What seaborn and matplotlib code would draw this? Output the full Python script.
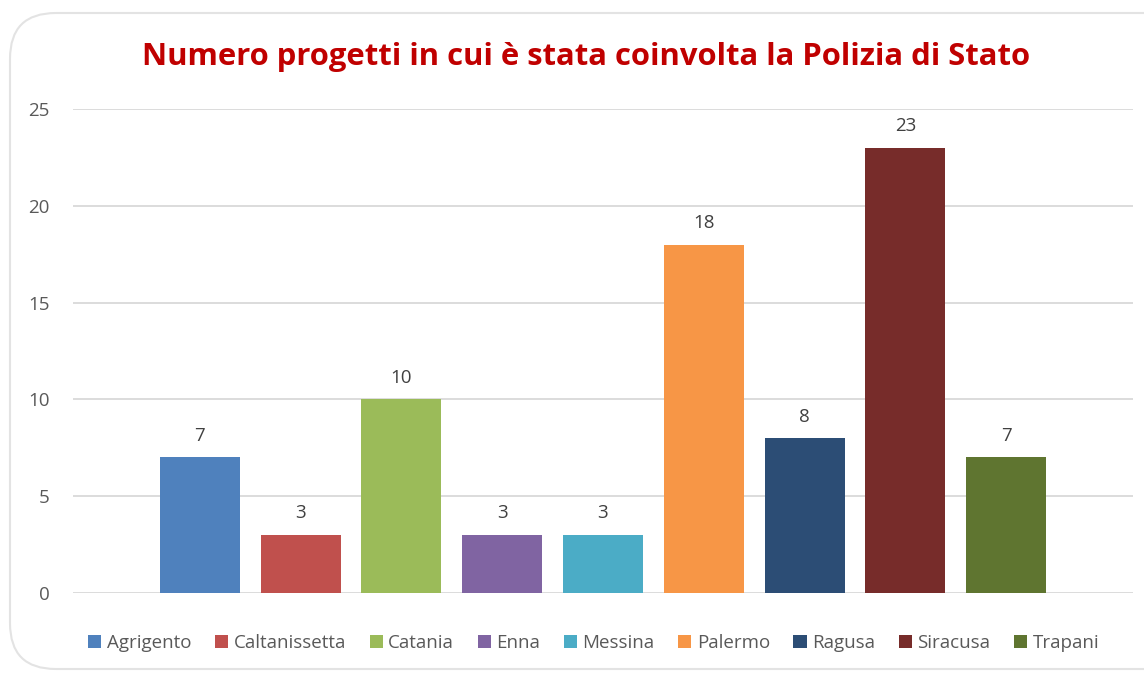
import matplotlib
matplotlib.use("Agg")
import matplotlib.pyplot as plt
import seaborn as sns
import pandas as pd
from matplotlib.patches import FancyBboxPatch, Patch

# data
province = ["Agrigento", "Caltanissetta", "Catania", "Enna", "Messina",
            "Palermo", "Ragusa", "Siracusa", "Trapani"]
progetti = [7, 3, 10, 3, 3, 18, 8, 23, 7]
colori = ["#4F81BD", "#C0504D", "#9BBB59", "#8064A2", "#4BACC6",
          "#F79646", "#2C4D75", "#772C2A", "#5F7530"]
title = "Numero progetti in cui è stata coinvolta la Polizia di Stato"

df = pd.DataFrame({"provincia": province, "progetti": progetti})

sns.set_style("white")
plt.rcParams["font.family"] = ["Open Sans", "DejaVu Sans"]

fig = plt.figure(figsize=(11.44, 6.75), dpi=100)
ax = fig.add_axes([73 / 1144, 82 / 675, 1060 / 1144, 484 / 675])

# rounded chart frame (only left side visible in the reference)
frame = FancyBboxPatch((10 / 1144, 6 / 675), 1.2, 656 / 675,
                       boxstyle="round,pad=0,rounding_size=0.04",
                       transform=fig.transFigure, fill=False,
                       edgecolor="#E3E3E3", linewidth=1.5, zorder=0,
                       mutation_aspect=1144 / 675)
fig.patches.append(frame)

sns.barplot(data=df, x="provincia", y="progetti", hue="provincia",
            palette=colori, width=0.794, saturation=1, legend=False, ax=ax,
            linewidth=0, zorder=3)

for i, v in enumerate(progetti):
    ax.text(i, v + 0.65, str(v), ha="center", va="bottom",
            fontsize=13.5, color="#404040")

ax.set_xlim(-1.26, 9.26)
ax.set_ylim(0, 25)
ax.set_yticks([0, 5, 10, 15, 20, 25])
ax.yaxis.grid(True, color="#D9D9D9", linewidth=1.3, zorder=0)
ax.set_xticks([])
ax.set_xlabel("")
ax.set_ylabel("")
for s in ax.spines.values():
    s.set_visible(False)
ax.tick_params(axis="y", length=0, pad=17, labelsize=13.5, labelcolor="#595959")

handles = [Patch(facecolor=c, edgecolor="none") for c in colori]
fig.legend(handles, province, loc="center", bbox_to_anchor=(0.519, 32 / 675),
           ncol=9, frameon=False, fontsize=13.5, labelcolor="#595959",
           handlelength=0.7, handleheight=0.7, handletextpad=0.3,
           columnspacing=1.25)

fig.text(0.512, 1 - 57 / 675, title, ha="center", va="center",
         fontsize=22.3, fontweight="bold", color="#C00000")

fig.savefig("out.png", dpi=100)
